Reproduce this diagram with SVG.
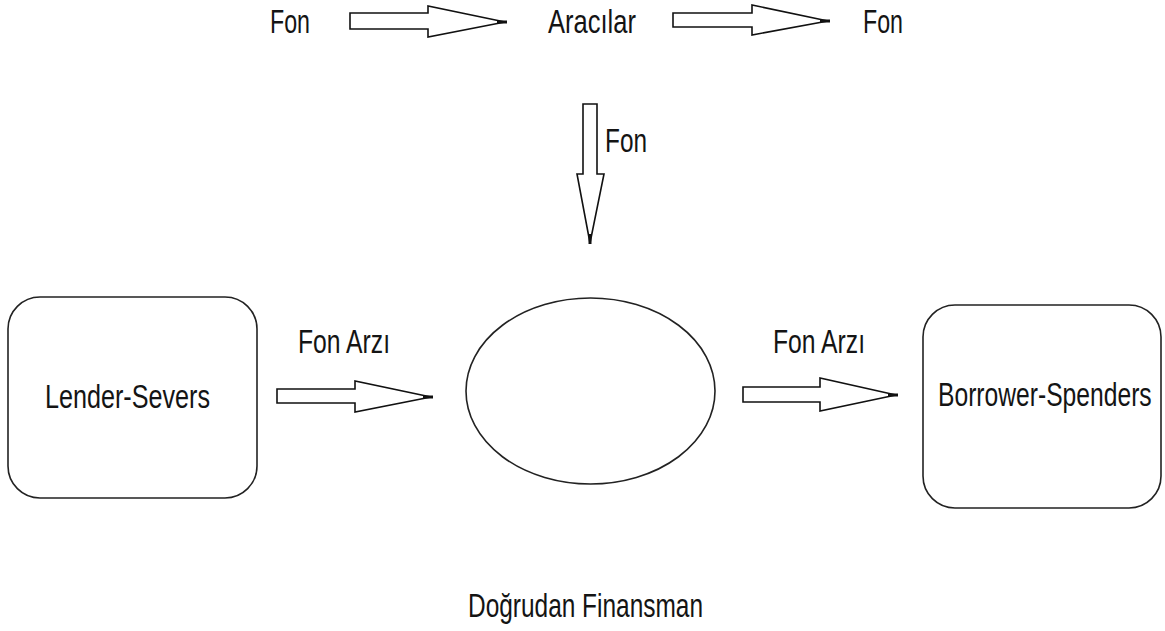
<svg xmlns="http://www.w3.org/2000/svg" width="1165" height="631" viewBox="0 0 1165 631">
  <style>
    .lbl { font-family: "Liberation Sans", "Arial", sans-serif; font-size: 34px; fill: #141414; }
    .box { fill: #ffffff; stroke: #222; stroke-width: 1.6; }
    .arrow { fill: #ffffff; stroke: #111; stroke-width: 1.6; stroke-linejoin: miter; }
    .tip { stroke: #111; stroke-width: 3; }
  </style>
  <rect width="1165" height="631" fill="#ffffff"/>

  <!-- top row: funds flowing through intermediaries -->
  <g id="node-fon-in">
    <text class="lbl" x="270" y="33" textLength="40" lengthAdjust="spacingAndGlyphs">Fon</text>
  </g>
  <g id="node-aracilar">
    <text class="lbl" x="548" y="33" textLength="88" lengthAdjust="spacingAndGlyphs">Aracılar</text>
  </g>
  <g id="node-fon-out">
    <text class="lbl" x="863" y="33" textLength="40" lengthAdjust="spacingAndGlyphs">Fon</text>
  </g>

  <!-- main row -->
  <g id="node-lender">
    <rect class="box" x="8" y="297" width="249" height="201" rx="32" ry="32"/>
    <text class="lbl" x="45" y="408" textLength="165" lengthAdjust="spacingAndGlyphs">Lender-Severs</text>
  </g>
  <g id="node-market">
    <ellipse class="box" cx="590.500" cy="391" rx="124.500" ry="93"/>
  </g>
  <g id="node-borrower">
    <rect class="box" x="923" y="305" width="238" height="203" rx="32" ry="32"/>
    <!-- narrowed horizontally so the long label fits inside the box -->
    <text class="lbl" x="0" y="0" transform="translate(938,406) scale(0.725,1)">Borrower-Spenders</text>
  </g>

  <g id="caption">
    <text class="lbl" x="468" y="617" textLength="235" lengthAdjust="spacingAndGlyphs">Doğrudan Finansman</text>
  </g>

  <!-- block arrows and their labels -->
  <g id="connectors">
    <g id="arrow-fon-aracilar">
      <polygon class="arrow" points="350,13 428,13 428,6 505,22 428,37 428,29 350,29"/>
      <line class="tip" x1="497" y1="22" x2="507" y2="22"/>
    </g>
    <g id="arrow-aracilar-fon">
      <polygon class="arrow" points="673,13 752,13 752,5 828,21 752,35 752,27 673,27"/>
      <line class="tip" x1="820" y1="21" x2="830" y2="21"/>
    </g>
    <g id="arrow-aracilar-down">
      <polygon class="arrow" points="583,104 597,104 597,174 604,174 590,243 577,174 583,174"/>
      <line class="tip" x1="590" y1="234" x2="590" y2="244"/>
      <text class="lbl" x="605" y="152" textLength="42" lengthAdjust="spacingAndGlyphs">Fon</text>
    </g>
    <g id="arrow-lender-market">
      <polygon class="arrow" points="277,389 355,389 355,381 431,397 355,412 355,403 277,403"/>
      <line class="tip" x1="423" y1="397" x2="433" y2="397"/>
      <text class="lbl" x="298" y="353" textLength="92" lengthAdjust="spacingAndGlyphs">Fon Arzı</text>
    </g>
    <g id="arrow-market-borrower">
      <polygon class="arrow" points="743,387 820,387 820,378 896,395 820,411 820,402 743,402"/>
      <line class="tip" x1="888" y1="395" x2="898" y2="395"/>
      <text class="lbl" x="773" y="353" textLength="92" lengthAdjust="spacingAndGlyphs">Fon Arzı</text>
    </g>
  </g>
</svg>
